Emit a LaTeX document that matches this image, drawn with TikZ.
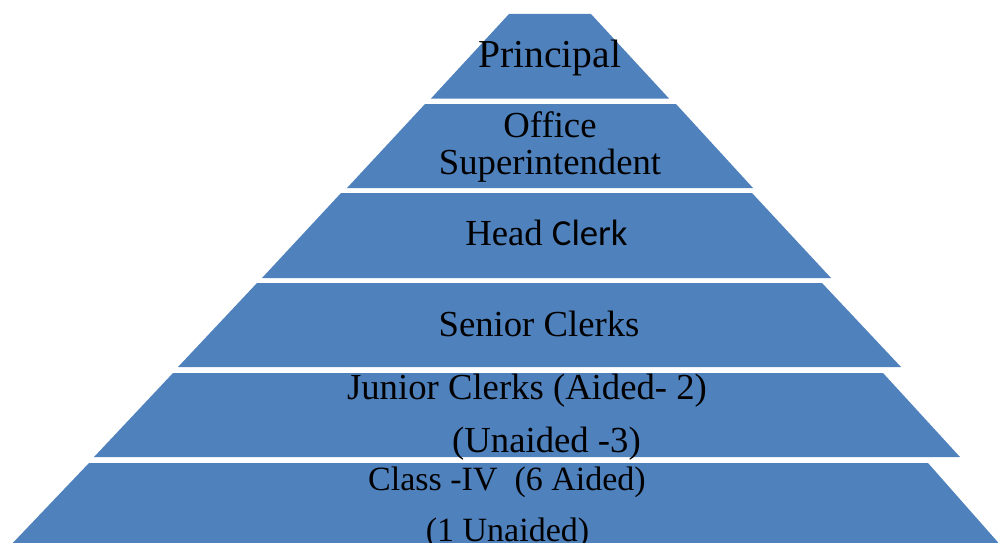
\documentclass[tikz,border=0pt]{standalone}
\usepackage{fontspec}
\setmainfont{Liberation Serif}
\newfontfamily\calfont{Carlito}
\definecolor{tierblue}{HTML}{4F81BD}
\tikzset{
  tier/.style={fill=tierblue, draw=none},
  lbl/.style={anchor=base, inner sep=0pt, font=\fontsize{36.7}{44}\selectfont, text=black},
  biglbl/.style={lbl, font=\fontsize{39.6}{47}\selectfont},
  smalllbl/.style={lbl, font=\fontsize{34}{41}\selectfont}
}
\begin{document}
\begin{tikzpicture}[x=1pt,y=-1pt]
\useasboundingbox (0,0) rectangle (998,543);
% tiers
\fill[tier] (509,14) -- (591,14) -- (669,98.5) -- (431,98.5) -- cycle;
\fill[tier] (425,104) -- (676,104) -- (753,188) -- (347,188) -- cycle;
\fill[tier] (341,193) -- (752,193) -- (831,278) -- (262,278) -- cycle;
\fill[tier] (257,283) -- (822,283) -- (901,367) -- (178,367) -- cycle;
\fill[tier] (173,373) -- (883,373) -- (960,457) -- (94,457) -- cycle;
\fill[tier] (89,463) -- (928,463) -- (1003,548) -- (8,548) -- cycle;
% labels
\node[biglbl] (principal) at (549.5,67) {Principal};
\node[lbl] (office) at (550,137) {Office};
\node[lbl] (superint) at (550,174) {Superintendent};
\node[lbl] (head) at (546.5,245) {Head {\calfont Clerk}};
\node[lbl] (senior) at (539,336) {Senior Clerks};
\node[lbl] (junior1) at (527,399) {Junior Clerks (Aided- 2)};
\node[lbl] (junior2) at (546.5,452) {(Unaided -3)};
\node[smalllbl] (class1) at (507,490) {Class -IV\ \ (6 Aided)};
\node[smalllbl] (class2) at (507.5,541) {(1 Unaided)};
\end{tikzpicture}
\end{document}
